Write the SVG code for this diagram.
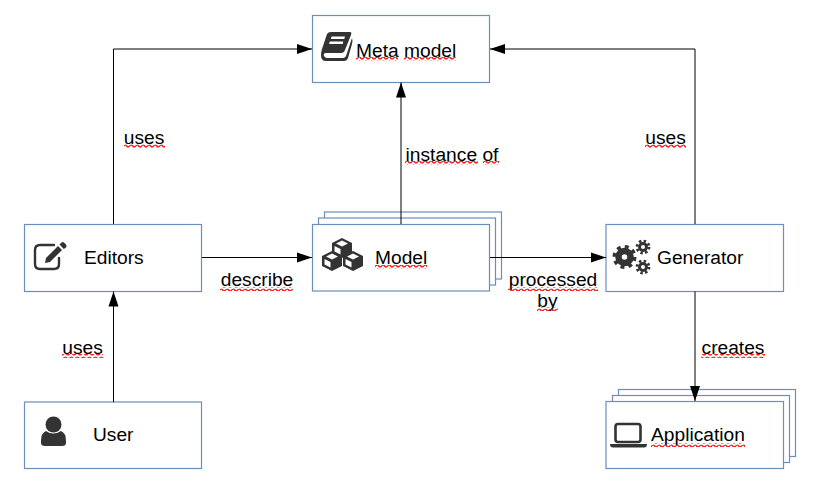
<svg xmlns="http://www.w3.org/2000/svg" width="813" height="491" viewBox="0 0 813 491">
<style>
.b{fill:#fff;stroke:#6c8ebf;stroke-width:1.2}
.c{fill:none;stroke:#000;stroke-width:1;marker-end:url(#a)}
text{font-family:"Liberation Sans",Arial,sans-serif;font-size:19.2px;fill:#000}
.m{text-anchor:middle}
.i{fill:#333}
.s{fill:url(#w)}
</style>
<defs>
<marker id="a" markerUnits="userSpaceOnUse" markerWidth="16" markerHeight="12" refX="15" refY="6" orient="auto"><path d="M0 1 L15 6 L0 11 Z" fill="#000"/></marker>
<pattern id="w" patternUnits="userSpaceOnUse" width="6" height="4"><path d="M0 1 Q1.500 4 3 2.500 T6 1" fill="none" stroke="#f00" stroke-width="1.200"/></pattern>
<g id="cube"><path class="i" d="M0 -10 L10 -5 V5 L0 10 L-10 5 V-5 Z"/><path fill="#fff" d="M0 -7.500 L6 -4.500 L0 -1.500 L-6 -4.500 Z M-7.500 -2 L-1.500 1 V6.500 L-7.500 3.500 Z"/></g>
</defs>
<rect width="813" height="491" fill="#fff"/>
<g id="meta"><rect class="b" x="312.500" y="15.500" width="177" height="67"/>
<path class="i" d="M327 34 Q328 32 331 32 H350 Q352 32 351 35 L345 50 Q344 53 341 53 H326 Q323 53 324 56 Q325 58 327 58 H343 Q345 58 346 56 L352 38 Q353 41 352 44 L348 58 Q347 61 344 61 H326 Q321 61 321 55 Q321 52 322 49 Z"/>
<path fill="#fff" d="M331.500 36.500 H345 L344.300 39 H330.800 Z M329.800 41.500 H343.300 L342.600 44 H329.100 Z"/>
<text x="356" y="56.500">Meta model</text></g>
<g id="editors"><rect class="b" x="24.500" y="224.500" width="177" height="67"/>
<path d="M59 258 V264 Q59 269 54 269 H40 Q35 269 35 264 V250 Q35 245 40 245 H54" fill="none" stroke="#333" stroke-width="2.400" stroke-linecap="round"/>
<path class="i" d="M46 258 L58 246 L62 250 L50 262 L45 263 Z M59.500 244.500 L61.500 242.500 Q63 241.500 64.500 243 L66 244.500 Q67 246 66 247.500 L63.800 249 Z"/>
<text x="84" y="264">Editors</text></g>
<g id="user"><rect class="b" x="24.500" y="402" width="177" height="66.500"/>
<circle class="i" cx="53.500" cy="424.500" r="8"/><path class="i" d="M41 441 Q41 433 46 431 Q53 436 61 431 Q66 433 66 441 V443 Q66 446 62 446 H45 Q41 446 41 443 Z"/>
<text x="93" y="441">User</text></g>
<g id="model"><rect class="b" x="324.500" y="212" width="177" height="67"/><rect class="b" x="318.500" y="218" width="177" height="67"/><rect class="b" x="312.500" y="224.500" width="177" height="66.500"/>
<use href="#cube" x="342" y="248"/><use href="#cube" x="332" y="261"/><use href="#cube" x="353" y="261"/>
<text x="375" y="264">Model</text></g>
<g id="generator"><rect class="b" x="606" y="224.500" width="177.500" height="67"/>
<g fill="none" stroke="#333"><circle cx="624.500" cy="257" r="6" stroke-width="6.500"/><circle cx="624.500" cy="257" r="10" stroke-width="4" stroke-dasharray="3.800 4.050"/><circle cx="643" cy="247" r="3.500" stroke-width="3"/><circle cx="643" cy="247" r="6" stroke-width="2.800" stroke-dasharray="2.400 2.300"/><circle cx="643" cy="267" r="3.500" stroke-width="3"/><circle cx="643" cy="267" r="6" stroke-width="2.800" stroke-dasharray="2.400 2.300"/></g>
<text x="657" y="264">Generator</text></g>
<g id="application"><rect class="b" x="618.500" y="389.500" width="177" height="67"/><rect class="b" x="612.500" y="395.500" width="177" height="67"/><rect class="b" x="606" y="401.500" width="177.500" height="67"/>
<rect x="615.500" y="424" width="25" height="18" rx="2.500" fill="none" stroke="#333" stroke-width="2.600"/><path class="i" d="M610 444 H647 Q647 447.500 644 447.500 H613 Q610 447.500 610 444 Z"/>
<text x="651" y="441">Application</text></g>
<g id="connectors">
<path class="c" d="M113.500 224 V49 H312"/>
<path class="c" d="M113.500 402 V291.500"/>
<path class="c" d="M202 257.500 H312"/>
<path class="c" d="M401 224 V82.500"/>
<path class="c" d="M490 257.500 H606"/>
<path class="c" d="M695 224 V49 H490"/>
<path class="c" d="M695 291.500 V401"/>
</g>
<g id="labels">
<text class="m" x="144" y="143.500">uses</text>
<text class="m" x="82.500" y="353.500">uses</text>
<text class="m" x="257" y="286">describe</text>
<text class="m" x="452" y="160.500">instance of</text>
<text class="m" x="665.500" y="143.500">uses</text>
<text class="m" x="553" y="286">processed</text>
<text class="m" x="547.500" y="306.500">by</text>
<text class="m" x="733" y="353.500">creates</text>
</g>
<g id="squiggles">
<rect class="s" x="356" y="57" width="42" height="4"/><rect class="s" x="404" y="57" width="52" height="4"/>
<rect class="s" x="375" y="265" width="52" height="4"/>
<rect class="s" x="651" y="443" width="94" height="4"/>
<rect class="s" x="124" y="144" width="41" height="4"/>
<rect class="s" x="62" y="354" width="41" height="4"/>
<rect class="s" x="645" y="144" width="41" height="4"/>
<rect class="s" x="220" y="287" width="73" height="4"/>
<rect class="s" x="508" y="287" width="90" height="4"/>
<rect class="s" x="537" y="307" width="21" height="4"/>
<rect class="s" x="701" y="354" width="64" height="4"/>
<rect class="s" x="405" y="161" width="73" height="4"/>
<rect class="s" x="483" y="161" width="16" height="4"/>
</g>
</svg>
